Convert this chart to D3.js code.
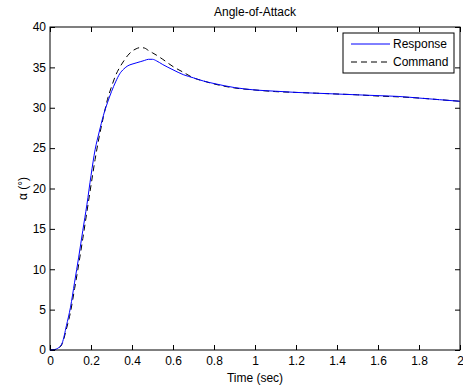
<!DOCTYPE html>
<html>
<head>
<meta charset="utf-8">
<script src="https://cdn.jsdelivr.net/npm/d3@7"></script>
<style>
	body { margin: 0; background: #fff; }
	svg text { font-family: "Liberation Sans", Arial, sans-serif; font-size: 12px; fill: #000; }
</style>
</head>
<body>
<svg id="chart" width="463" height="388"></svg>
<script>
let timeVals = [0, 0.02, 0.04, 0.06, 0.08, 0.1, 0.12, 0.14, 0.16, 0.18, 0.2, 0.22, 0.24, 0.26, 0.28, 0.3,
	0.32, 0.34, 0.36, 0.38, 0.4, 0.42, 0.44, 0.46, 0.48, 0.5, 0.52, 0.55, 0.6, 0.65, 0.7, 0.75, 0.8,
	0.9, 1.0, 1.1, 1.2, 1.3, 1.4, 1.5, 1.6, 1.7, 1.8, 1.9, 2.0];
let responseVals = [0, 0.05, 0.25, 0.9, 3.0, 5.3, 8.4, 11.5, 14.8, 18.0, 21.6, 24.8, 27.0, 29.0, 30.6, 32.0,
	33.2, 34.2, 34.8, 35.2, 35.4, 35.55, 35.7, 35.85, 36.0, 36.0, 35.8, 35.35, 34.7, 34.1, 33.7, 33.3, 33.0,
	32.5, 32.2, 32.05, 31.9, 31.8, 31.7, 31.6, 31.5, 31.4, 31.2, 31.0, 30.8];
let commandVals = [0, 0.02, 0.2, 0.8, 2.6, 4.7, 7.6, 10.6, 13.8, 17.1, 20.4, 23.6, 26.4, 28.8, 31.0, 32.6,
	34.0, 35.0, 35.8, 36.5, 37.0, 37.3, 37.45, 37.4, 37.1, 36.8, 36.5, 36.0, 35.1, 34.4, 33.7, 33.3, 32.95,
	32.45, 32.2, 32.0, 31.9, 31.8, 31.7, 31.6, 31.45, 31.35, 31.2, 31.0, 30.8];
let xTicks = [0, 0.2, 0.4, 0.6, 0.8, 1, 1.2, 1.4, 1.6, 1.8, 2];
let yTicks = [0, 5, 10, 15, 20, 25, 30, 35, 40];

let margin = {"left": 50, "top": 27, "right": 3, "bottom": 38};
let width = 463, height = 388;

let svg = d3.select("#chart");

let scaleX = d3.scaleLinear().domain([0, 2]).range([margin.left, width - margin.right]);
let scaleY = d3.scaleLinear().domain([0, 40]).range([height - margin.bottom, margin.top]);

// ticks point inward on all four sides
let tickLen = 5;
svg.append("g")
	.attr("transform", "translate(0," + scaleY(0) + ")")
	.call(d3.axisBottom(scaleX).tickValues(xTicks).tickSizeInner(-tickLen).tickSizeOuter(0).tickPadding(6)
		.tickFormat(d3.format("")))
	.call(g => g.select(".domain").remove());
svg.append("g")
	.attr("transform", "translate(0," + scaleY(40) + ")")
	.call(d3.axisTop(scaleX).tickValues(xTicks).tickSizeInner(-tickLen).tickSizeOuter(0).tickFormat(""))
	.call(g => g.select(".domain").remove());
svg.append("g")
	.attr("transform", "translate(" + scaleX(0) + ",0)")
	.call(d3.axisLeft(scaleY).tickValues(yTicks).tickSizeInner(-tickLen).tickSizeOuter(0).tickPadding(4))
	.call(g => g.select(".domain").remove());
svg.append("g")
	.attr("transform", "translate(" + scaleX(2) + ",0)")
	.call(d3.axisRight(scaleY).tickValues(yTicks).tickSizeInner(-tickLen).tickSizeOuter(0).tickFormat(""))
	.call(g => g.select(".domain").remove());

svg.selectAll(".tick text").attr("font-size", 12).attr("font-family", null);
svg.selectAll(".tick line").attr("stroke", "#000");

let series = [
	{"key": "Response", "values": responseVals, "color": "#0000ff", "dash": null},
	{"key": "Command", "values": commandVals, "color": "#000", "dash": "6,4"}
];

let line = d3.line()
	.x((d, i) => scaleX(timeVals[i]))
	.y(d => scaleY(d))
	.curve(d3.curveMonotoneX);

svg.selectAll("path.series")
	.data(series.slice().reverse())
	.join("path")
	.attr("class", "series")
	.attr("fill", "none")
	.attr("stroke", d => d.color)
	.attr("stroke-width", 1)
	.attr("stroke-dasharray", d => d.dash)
	.attr("d", d => line(d.values));

// box
svg.append("rect")
	.attr("x", scaleX(0)).attr("y", scaleY(40))
	.attr("width", scaleX(2) - scaleX(0)).attr("height", scaleY(0) - scaleY(40))
	.attr("fill", "none").attr("stroke", "#000").attr("stroke-width", 1);

svg.append("text")
	.attr("x", (scaleX(0) + scaleX(2)) / 2).attr("y", 16)
	.attr("text-anchor", "middle")
	.text("Angle-of-Attack");

svg.append("text")
	.attr("x", (scaleX(0) + scaleX(2)) / 2).attr("y", 382)
	.attr("text-anchor", "middle")
	.text("Time (sec)");

svg.append("text")
	.attr("transform", "translate(27," + ((scaleY(0) + scaleY(40)) / 2) + ") rotate(-90)")
	.attr("text-anchor", "middle")
	.text("\u03b1 (\u00b0)");

// legend
let legend = svg.append("g").attr("transform", "translate(343,33)");
legend.append("rect")
	.attr("width", 111).attr("height", 40)
	.attr("fill", "#fff").attr("stroke", "#000");
let items = legend.selectAll("g.item")
	.data(series)
	.join("g")
	.attr("class", "item")
	.attr("transform", (d, i) => "translate(0," + (11 + i * 18) + ")");
items.append("line")
	.attr("x1", 8).attr("x2", 47)
	.attr("stroke", d => d.color)
	.attr("stroke-dasharray", d => d.dash);
items.append("text")
	.attr("x", 50).attr("dy", "0.35em")
	.text(d => d.key);
</script>
</body>
</html>
